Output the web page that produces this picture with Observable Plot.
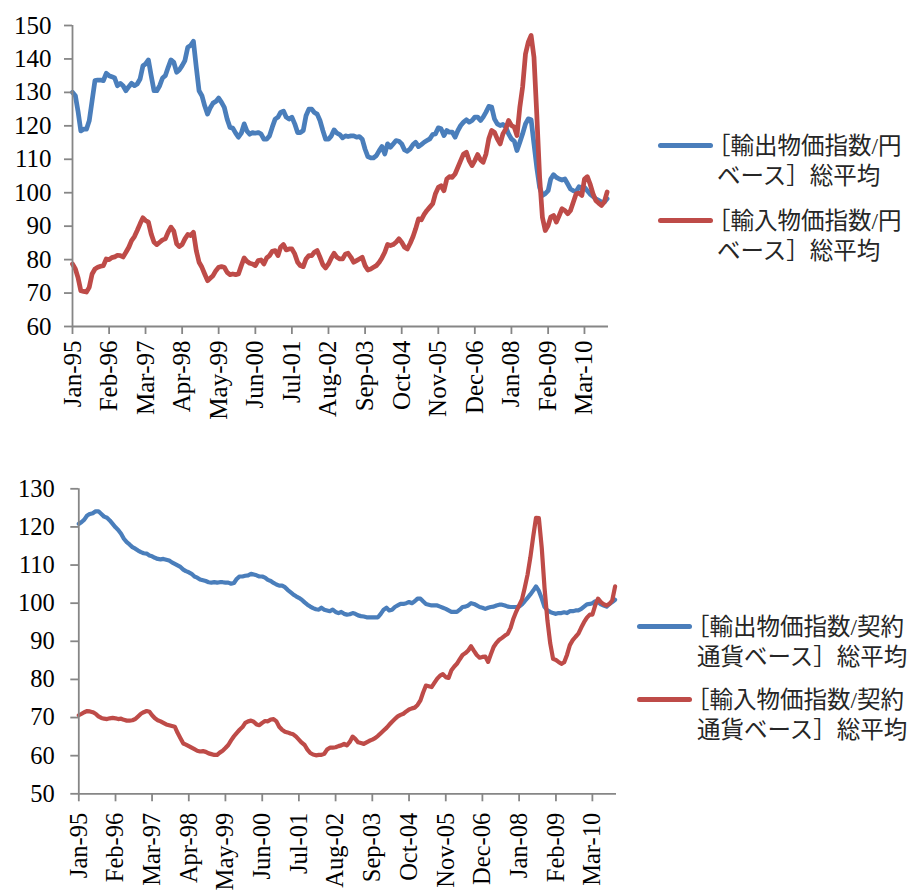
<!DOCTYPE html>
<html>
<head>
<meta charset="utf-8">
<script src="https://cdn.jsdelivr.net/npm/d3@7"></script>
<script src="https://cdn.jsdelivr.net/npm/@observablehq/plot@0.6"></script>
<style>
  html, body { margin: 0; padding: 0; background: #fff; }
  #page { position: relative; width: 912px; height: 891px; overflow: hidden; }
  .chart { position: absolute; left: 0; }
  .sw { position: absolute; height: 5px; border-radius: 2.5px; }
  .lg { position: absolute; font-family: "Liberation Serif", "Noto Sans CJK JP", serif; font-size: 23.5px;
        line-height: 30px; height: 30px; white-space: nowrap; color: #262626; }
</style>
</head>
<body>
<div id="page"></div>
<script>
// Monthly price indices, Jan 1995 – Nov 2010 (191 months)
const tickLabels = ["Jan-95","Feb-96","Mar-97","Apr-98","May-99","Jun-00","Jul-01","Aug-02",
  "Sep-03","Oct-04","Nov-05","Dec-06","Jan-08","Feb-09","Mar-10"];

// Yen basis
const exportYen = [
  130,129,124.5,118.5,119,119,121.5,127.5,133.5,133.7,
  133.7,133.5,135.7,135,134.7,134.3,132,132.7,132,130.5,
  131.7,132.7,132,132.5,134,138,138.5,139.7,135,130.5,
  130.5,132,134.3,135,137.5,139.7,139,136,136.7,138,
  139.5,143.5,144,145.3,137.5,130.5,129,126,123.5,125.5,
  126.8,127.3,128.3,127,125.5,122,119.5,119.3,117.8,116.6,
  117.8,120.6,118.5,117.5,118,117.8,118,117.6,116,116,
  117,119.6,122,122.6,124,124.4,122.6,122,122.6,120.6,
  118,118,118.6,123,125,125,124,123.5,121.6,118.6,
  116,116,117,118.8,117.8,117.4,116.4,117,116.8,117,
  117,116.6,116.8,116,113,110.8,110.4,110.4,111.1,112.6,
  113.8,111.6,114.6,113.6,114.6,115.6,115.4,114.6,112.8,112.4,
  113.1,114.4,115.1,113.8,114.4,115.1,115.6,116.1,117.4,117.6,
  119.4,119.1,117.1,118.6,118.1,118.1,116.6,118.6,120.1,121.1,
  121.8,121.1,121.6,122.6,122.6,121.6,122.6,124.1,125.8,125.6,
  122.1,120.6,120.1,120.4,119.6,117.6,116.1,115.4,112.6,115.1,
  117.6,120.6,122.1,121.8,114.6,107.6,101.6,99.2,99.7,100.6,
  104.1,105.4,104.6,104.1,103.8,104.1,102.6,101.1,100.6,100.4,
  101.8,101.1,101.6,100.6,99.6,98.9,98.2,97.7,97.2,97.2,98.2
];
const importYen = [
  78.7,77.2,74.7,70.7,70.5,70.3,71.7,75.7,77.2,77.7,
  78,78.2,80.2,80,80.6,80.8,81.3,81.2,80.8,82.2,
  83.7,85.7,86.9,88.7,90.7,92.5,91.7,91.2,87.7,85.2,
  84.5,85.2,85.9,86.2,88.2,89.7,88.5,84.7,83.9,84.5,
  86.2,87.5,87.2,88.2,82.7,79.2,77.7,75.7,73.7,74.5,
  75.2,76.7,77.7,77.9,77.7,76.2,75.5,75.7,75.5,75.7,
  78.2,80.5,79.5,78.9,78.7,78.2,79.7,79.9,78.7,80.5,
  81.2,82.5,82.7,81.2,83.7,84.5,82.9,83.2,83.2,81.7,
  79.2,78.2,77.9,80.2,81.2,81.2,82.2,82.7,80.7,78.5,
  77.5,78.7,80.5,81.9,80.7,80.2,80.2,81.7,81.9,80.7,
  79.2,79.7,80.2,80.7,78.2,76.9,77.2,77.7,78.2,79.2,
  80.5,82.2,84.5,84.2,84.5,85.2,86.2,85.2,83.7,83.2,
  84.9,86.9,89.2,92.2,91.9,93.5,94.7,95.7,96.7,99.7,
  101.6,102.1,100.6,104.1,104.8,104.6,105.6,107.6,109.6,111.6,
  112.1,109.6,108.1,109.6,111.4,109.8,109.1,111.6,116.1,118.6,
  118.1,116.1,114.6,117.6,119.1,121.6,120.1,119.6,117.1,125.6,
  131.6,141.5,145,147,140.5,123.6,104.6,92.7,88.7,90.2,
  92.7,93.2,91.2,93.2,95.2,94.7,93.7,94.7,97.2,99.7,
  99.9,99.2,104.1,104.8,102.6,99.7,97.7,96.9,96.2,97.2,100.2
];

// Contract-currency basis
const exportContract = [
  120.8,121.3,121.9,123,123.4,123.6,124.1,124.1,123.4,122.7,
  122.4,121.7,120.8,119.9,119.2,118.2,116.9,116,115.4,114.7,
  114.3,113.8,113.4,113.1,113,112.5,112.3,111.9,111.6,111.5,
  111.6,111.4,111.2,110.7,110.3,109.9,109.5,108.8,108.4,108.1,
  107.7,107,106.7,106.2,106,105.8,105.5,105.4,105.5,105.4,
  105.5,105.5,105.4,105.4,105.1,105.3,106.4,107,107,107.2,
  107.3,107.7,107.5,107.3,107,107,106.7,106.1,105.8,105.3,
  104.9,104.6,104.6,104.2,103.5,102.9,102.3,101.8,101.4,100.9,
  100.2,99.6,99.1,98.7,98.4,98.3,98.8,98.3,98.1,97.9,
  98.3,97.7,97.4,97.7,97.2,97,97.1,97.4,97.2,96.8,
  96.6,96.5,96.3,96.3,96.3,96.3,96.3,97.2,98.3,98.8,
  98.1,98.3,99,99.4,99.8,99.8,100,100.3,100,100.5,
  101.2,101.2,100.5,99.8,99.6,99.4,99.4,99.4,99.1,98.8,
  98.5,98.1,97.7,97.7,97.7,98.3,99,99.1,99.4,100,
  99.8,99.4,99,98.8,98.5,98.8,99,99.1,99.4,99.6,
  99.6,99.4,99.1,99,99,99,99.1,99.7,100.5,101.4,
  102.3,103.3,104.4,103.2,101.2,99,98.1,97.7,97.4,97.2,
  97.4,97.4,97.6,97.4,97.9,97.9,98.1,98.1,98.5,99.1,
  99.7,99.8,100,100.5,100.3,99.7,99.4,99.1,99.8,100.3,100.9
];
const importContract = [
  70.6,71.0,71.4,71.7,71.6,71.4,71.0,70.3,69.9,69.7,
  69.6,69.8,69.9,69.8,69.6,69.7,69.4,69.2,69.2,69.3,
  69.6,70.3,71.0,71.4,71.7,71.5,70.6,69.8,69.3,69.0,
  68.6,68.2,68.0,67.8,67.6,66.0,64.6,63.2,62.9,62.5,
  62.1,61.7,61.3,61.1,61.2,61.0,60.6,60.4,60.2,60.2,
  60.8,61.3,62.0,62.8,64.0,65.1,66.0,66.8,67.5,68.6,
  69.0,69.2,68.9,68.2,68.0,68.6,69.1,69.0,69.5,69.6,
  69.0,67.6,66.8,66.3,66.1,65.8,65.6,65.0,64.2,63.4,
  62.8,61.6,60.7,60.3,60.1,60.2,60.2,60.5,61.6,62.1,
  62.1,62.2,62.5,62.7,63.1,62.7,63.6,65.0,64.4,63.5,
  63.3,63.1,63.5,63.9,64.2,64.6,65.2,65.9,66.6,67.3,
  68.1,68.9,69.6,70.3,70.7,71.0,71.6,72.1,72.4,72.6,
  73.3,74.5,76.5,78.4,78.2,78.0,79.1,80.2,81.0,81.4,
  80.6,80.4,82.4,83.4,84.1,85.3,86.4,86.9,87.6,88.7,
  87.5,86.4,85.7,85.9,86.0,84.6,86.5,88.5,89.6,90.4,
  90.9,91.5,92.0,93.5,96.0,97.8,99.4,101.0,104.0,107.5,
  112.0,117.5,122.4,122.3,114.5,104.0,95.5,89.5,85.4,85.1,
  84.6,84.1,84.5,86.5,89.0,90.3,91.2,92.0,93.6,95.0,
  96.2,97.0,97.0,99.5,101.2,100.3,99.7,99.4,99.8,100.7,104.4
];

const topNames = [["［輸出物価指数/円", "ベース］総平均"], ["［輸入物価指数/円", "ベース］総平均"]];
const bottomNames = [["［輸出物価指数/契約", "通貨ベース］総平均"], ["［輸入物価指数/契約", "通貨ベース］総平均"]];

const BLUE = "#4A7EBB";
const RED = "#BE4B48";
const AXIS = "#868686";

const parseTick = d3.utcParse("%b-%y");
const tickDates = tickLabels.map(parseTick);
const months = d3.utcMonth.range(new Date(Date.UTC(1995, 0, 1)), new Date(Date.UTC(2010, 11, 1)));
const xStart = months[0];
const xEnd = new Date(Date.UTC(2010, 10, 16));

function panel(o) {
  const exp = o.exp.map((v, i) => ({date: months[i], value: v}));
  const imp = o.imp.map((v, i) => ({date: months[i], value: v}));
  return Plot.plot({
    width: o.width,
    height: o.height,
    marginLeft: o.x0,
    marginRight: o.width - o.x1,
    marginTop: o.y0,
    marginBottom: o.height - o.y1,
    style: {fontFamily: '"Liberation Serif", "Times New Roman", serif', background: "#fff", overflow: "visible"},
    x: {type: "utc", domain: [xStart, xEnd]},
    y: {domain: o.yDomain},
    marks: [
      Plot.lineY(exp, {x: "date", y: "value", stroke: BLUE, strokeWidth: o.lw, strokeLinejoin: "round", strokeLinecap: "round"}),
      Plot.lineY(imp, {x: "date", y: "value", stroke: RED, strokeWidth: o.lw, strokeLinejoin: "round", strokeLinecap: "round"}),
      Plot.ruleX([xStart], {stroke: AXIS, strokeWidth: 1.8}),
      Plot.ruleY([o.yDomain[0]], {stroke: AXIS, strokeWidth: 1.8}),
      Plot.axisY({ticks: o.yTicks, tickSize: 8, tickPadding: o.yPad, stroke: AXIS, strokeWidth: 1.8,
        fill: "#000", fontSize: o.fs, label: null, tickFormat: d => String(d)}),
      Plot.axisX({ticks: tickDates, tickSize: 8, tickPadding: o.xPad, tickRotate: -90, stroke: AXIS,
        strokeWidth: 1.8, fill: "#000", fontSize: o.fs, label: null, tickFormat: d3.utcFormat("%b-%y")})
    ]
  });
}

const page = document.getElementById("page");

const top1 = panel({
  exp: exportYen, imp: importYen, width: 640, height: 440,
  x0: 72, x1: 608, y0: 25, y1: 326,
  yDomain: [60, 150], yTicks: d3.range(60, 151, 10),
  lw: 4.75, fs: 25, yPad: 13, xPad: 6
});
top1.classList.add("chart");
top1.style.top = "0px";
page.appendChild(top1);

const bottom1 = panel({
  exp: exportContract, imp: importContract, width: 640, height: 441,
  x0: 78.3, x1: 616, y0: 38.3, y1: 343.3,
  yDomain: [50, 130], yTicks: d3.range(50, 131, 10),
  lw: 4.2, fs: 24.5, yPad: 16, xPad: 11
});
bottom1.classList.add("chart");
bottom1.style.top = "450px";
page.appendChild(bottom1);

// Legends
function legend(names, entries) {
  names.forEach((lines, i) => {
    const e = entries[i];
    const sw = document.createElement("div");
    sw.className = "sw";
    sw.style.left = e.swX + "px";
    sw.style.width = e.swW + "px";
    sw.style.top = (e.y - 2.5) + "px";
    sw.style.background = e.color;
    page.appendChild(sw);
    lines.forEach((t, j) => {
      const d = document.createElement("div");
      d.className = "lg";
      d.textContent = t;
      d.style.left = (j === 0 ? e.tx0 : e.tx1) + "px";
      d.style.top = (e.y + 1 - 15 + j * 30) + "px";
      page.appendChild(d);
    });
  });
}

legend(topNames, [
  {swX: 658, swW: 55, y: 145, color: BLUE, tx0: 707, tx1: 717},
  {swX: 658, swW: 55, y: 220, color: RED, tx0: 707, tx1: 717}
]);
legend(bottomNames, [
  {swX: 637, swW: 55, y: 626, color: BLUE, tx0: 686, tx1: 697},
  {swX: 637, swW: 55, y: 699, color: RED, tx0: 686, tx1: 697}
]);
</script>
</body>
</html>
